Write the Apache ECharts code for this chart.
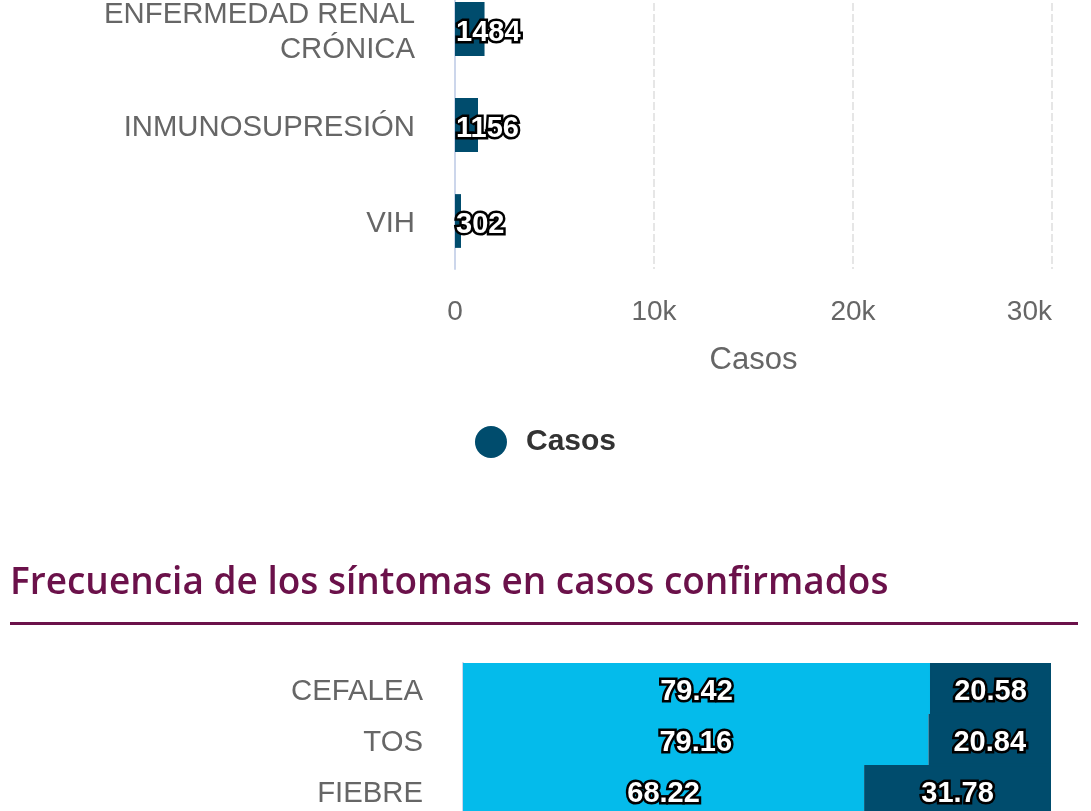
<!DOCTYPE html>
<html lang="es">
<head>
<meta charset="UTF-8">
<title>Comorbilidades y síntomas</title>
<script src="https://cdn.jsdelivr.net/npm/echarts@6/dist/echarts.min.js" type="text/javascript"></script>
<style>
  html, body { margin: 0; padding: 0; background: #fff; }
  #main { width: 1091px; height: 811px; }
</style>
</head>
<body>
<div id="main"></div>

<script type="text/javascript">
// comorbilidades (parte visible)
var comorbCategorias = ['ENFERMEDAD RENAL CRÓNICA', 'INMUNOSUPRESIÓN', 'VIH'];
var comorbCasos = [1484, 1156, 302];
var casosTicks = ['0', '10k', '20k', '30k'];

// síntomas en casos confirmados (porcentaje)
var sintomasCategorias = ['CEFALEA', 'TOS', 'FIEBRE'];
var sintomasSi = [79.42, 79.16, 68.22];
var sintomasNo = [20.58, 20.84, 31.78];

var fuente = "'Liberation Sans', Arial, sans-serif";
var azulOscuro = '#004c6d';
var azulClaro = '#04bbeb';

var etiquetaBarra = {
  show: true,
  color: '#fff',
  fontFamily: fuente,
  fontWeight: 'bold',
  fontSize: 29,
  textBorderColor: '#000',
  textBorderWidth: 5
};

// etiqueta de categoria: la ultima palabra baja de linea si es larga
function etiquetaCategoria(v) {
  var txt = v.length > 20 ? v.replace(/ (\S+)$/, '\n$1') : v;
  return txt.split('\n').map(function (s) { return '{a|' + s + '}'; }).join('\n');
}

var richCategoria = {
  a: { fontSize: 29.3, color: '#666', lineHeight: 35, padding: [6, 0, 0, 0] }
};

function graficas() {
  var myChart = echarts.init(document.getElementById('main'));
  myChart.setOption({
    animation: false,
    textStyle: { fontFamily: fuente },
    title: {
      text: 'Frecuencia de los síntomas en casos confirmados',
      left: 5,
      top: 560,
      textStyle: {
        fontFamily: "'Open Sans', sans-serif",
        fontWeight: 600,
        fontSize: 37,
        color: '#6b114a'
      }
    },
    graphic: [{
      type: 'rect',
      shape: { x: 10, y: 622, width: 1068, height: 3 },
      style: { fill: '#6b114a' }
    }],
    legend: {
      data: ['Casos'],
      left: 'center',
      top: 421,
      icon: 'circle',
      itemWidth: 32,
      itemHeight: 32,
      textStyle: {
        fontSize: 30,
        fontWeight: 'bold',
        color: '#333',
        padding: [0, 0, 0, 14]
      }
    },
    grid: [
      { left: 455, right: 39, top: -19, height: 288, outerBoundsMode: 'none' },
      { left: 463, right: 40, top: 663, height: 153, outerBoundsMode: 'none' }
    ],
    xAxis: [
      {
        gridIndex: 0,
        type: 'value',
        min: 0,
        max: 30000,
        interval: 10000,
        name: 'Casos',
        nameLocation: 'middle',
        nameGap: 76,
        nameTextStyle: { fontSize: 31, color: '#666' },
        axisLine: { show: false },
        axisTick: { show: false },
        axisLabel: {
          fontSize: 28,
          color: '#666',
          margin: 29,
          alignMaxLabel: 'right',
          formatter: function (v) { return casosTicks[v / 10000]; }
        },
        splitLine: { lineStyle: { color: '#e6e6e6', type: [8, 3], width: 2 } }
      },
      {
        gridIndex: 1,
        type: 'value',
        min: 0,
        max: 100,
        show: false
      }
    ],
    yAxis: [
      {
        gridIndex: 0,
        type: 'category',
        inverse: true,
        data: comorbCategorias,
        axisLine: { lineStyle: { color: '#ccd6eb', width: 2 } },
        axisTick: { show: false },
        axisLabel: { margin: 40, formatter: etiquetaCategoria, rich: richCategoria }
      },
      {
        gridIndex: 1,
        type: 'category',
        inverse: true,
        data: sintomasCategorias,
        axisLine: { lineStyle: { color: '#ccd6eb', width: 2 } },
        axisTick: { show: false },
        axisLabel: { margin: 40, formatter: etiquetaCategoria, rich: richCategoria }
      }
    ],
    series: [
      {
        name: 'Casos',
        type: 'bar',
        xAxisIndex: 0,
        yAxisIndex: 0,
        data: comorbCasos,
        barCategoryGap: '44%',
        itemStyle: { color: azulOscuro },
        label: Object.assign({ position: 'insideLeft', distance: 1, offset: [0, 4] }, etiquetaBarra)
      },
      {
        name: 'Sí',
        type: 'bar',
        stack: 'sintomas',
        xAxisIndex: 1,
        yAxisIndex: 1,
        data: sintomasSi,
        barCategoryGap: 0,
        itemStyle: { color: azulClaro, borderColor: azulClaro, borderWidth: 1.5 },
        label: Object.assign({ position: 'inside', offset: [0, 3] }, etiquetaBarra)
      },
      {
        name: 'No',
        type: 'bar',
        stack: 'sintomas',
        xAxisIndex: 1,
        yAxisIndex: 1,
        data: sintomasNo,
        barCategoryGap: 0,
        itemStyle: { color: azulOscuro, borderColor: azulOscuro, borderWidth: 1.5 },
        label: Object.assign({ position: 'inside', offset: [0, 3] }, etiquetaBarra)
      }
    ]
  });
}

graficas();
</script>
</body>
</html>
